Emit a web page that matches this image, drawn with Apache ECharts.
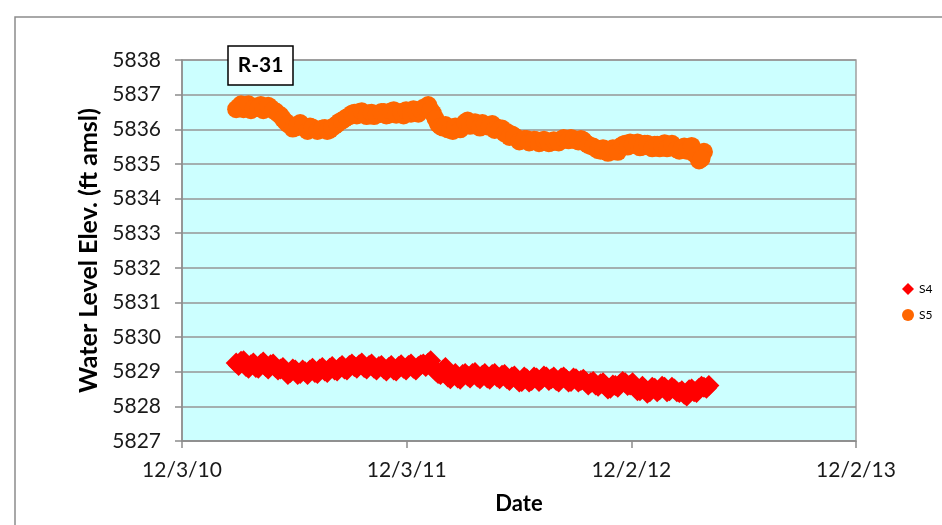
<!DOCTYPE html>
<html>
<head>
<meta charset="utf-8">
<script src="https://cdn.jsdelivr.net/npm/echarts@6/dist/echarts.min.js"></script>
<style>
  html, body { margin: 0; padding: 0; background: #fff; }
  #main { width: 942px; height: 525px; }
</style>
</head>
<body>
<div id="main"></div>
<script>
// x values are days after 12/3/10
var dateLabels = ['12/3/10', '12/3/11', '12/2/12', '12/2/13'];

// S4 readings (two passes over the band)
var s4Days = [88, 96, 104, 112, 120, 128, 136, 144, 152, 160, 168, 176, 184, 192, 200, 208, 216, 224, 232, 240,
    248, 256, 264, 272, 280, 288, 296, 304, 312, 320, 328, 336, 344, 352, 360, 368, 376, 384, 392, 400,
    408, 416, 424, 432, 440, 448, 456, 464, 472, 480, 488, 496, 504, 512, 520, 528, 536, 544, 552, 560,
    568, 576, 584, 592, 600, 608, 616, 624, 632, 640, 648, 656, 664, 672, 680, 688, 696, 704, 712, 720,
    728, 736, 744, 752, 760, 768, 776, 784, 792, 800, 808, 816, 824, 832, 840, 848, 856];
var s4Values = [5829.25, 5829.30, 5829.15, 5829.20, 5829.12, 5829.22, 5829.15, 5829.20, 5829.12, 5829.08,
    5829.02, 5828.98, 5829.05, 5828.95, 5829.00, 5829.05, 5828.98, 5829.08, 5829.02, 5829.10,
    5829.05, 5829.12, 5829.08, 5829.18, 5829.15, 5829.20, 5829.12, 5829.18, 5829.10, 5829.15,
    5829.08, 5829.12, 5829.05, 5829.15, 5829.10, 5829.18, 5829.10, 5829.15, 5829.22, 5829.25,
    5829.10, 5828.95, 5829.05, 5828.85, 5828.90, 5828.82, 5828.92, 5828.88, 5828.95, 5828.85,
    5828.90, 5828.82, 5828.92, 5828.85, 5828.90, 5828.80, 5828.85, 5828.78, 5828.72, 5828.80,
    5828.75, 5828.82, 5828.78, 5828.85, 5828.80, 5828.75, 5828.82, 5828.78, 5828.72, 5828.80,
    5828.75, 5828.70, 5828.68, 5828.62, 5828.65, 5828.58, 5828.52, 5828.60, 5828.65, 5828.68,
    5828.62, 5828.55, 5828.45, 5828.50, 5828.42, 5828.52, 5828.48, 5828.55, 5828.45, 5828.50,
    5828.40, 5828.35, 5828.48, 5828.42, 5828.52, 5828.55, 5828.60];
var s4DaysB = [92, 100, 108, 116, 124, 132, 140, 148, 156, 164, 172, 180, 188, 196, 204, 212, 220, 228, 236, 244,
    252, 260, 268, 276, 284, 292, 300, 308, 316, 324, 332, 340, 348, 356, 364, 372, 380, 388, 396, 404,
    412, 420, 428, 436, 444, 452, 460, 468, 476, 484, 492, 500, 508, 516, 524, 532, 540, 548, 556, 564,
    572, 580, 588, 596, 604, 612, 620, 628, 636, 644, 652, 660, 668, 676, 684, 692, 700, 708, 716, 724,
    732, 740, 748, 756, 764, 772, 780, 788, 796, 804, 812, 820, 828, 836, 844, 852];
var s4ValuesB = [5829.18, 5829.32, 5829.10, 5829.25, 5829.10, 5829.28, 5829.08, 5829.22, 5829.05, 5829.12,
    5828.92, 5829.08, 5828.92, 5829.05, 5828.92, 5829.10, 5828.95, 5829.12, 5828.98, 5829.15,
    5829.02, 5829.18, 5829.05, 5829.22, 5829.10, 5829.25, 5829.08, 5829.22, 5829.05, 5829.18,
    5829.02, 5829.18, 5829.02, 5829.20, 5829.05, 5829.22, 5829.05, 5829.20, 5829.15, 5829.32,
    5829.02, 5828.92, 5829.12, 5828.80, 5828.95, 5828.78, 5828.95, 5828.82, 5828.98, 5828.80,
    5828.95, 5828.78, 5828.95, 5828.80, 5828.92, 5828.75, 5828.88, 5828.70, 5828.85, 5828.70,
    5828.85, 5828.72, 5828.88, 5828.75, 5828.85, 5828.70, 5828.85, 5828.70, 5828.82, 5828.70,
    5828.78, 5828.62, 5828.72, 5828.58, 5828.68, 5828.50, 5828.62, 5828.55, 5828.72, 5828.60,
    5828.68, 5828.45, 5828.58, 5828.38, 5828.55, 5828.42, 5828.58, 5828.42, 5828.55, 5828.42,
    5828.45, 5828.30, 5828.50, 5828.40, 5828.58, 5828.52];

// S5 readings (two passes over the band)
var s5Days = [88, 96, 104, 112, 120, 128, 136, 144, 152, 160, 168, 176, 184, 192, 200, 208, 216, 224, 232, 240,
    248, 256, 264, 272, 280, 288, 296, 304, 312, 320, 328, 336, 344, 352, 360, 368, 376, 384, 392, 400,
    408, 416, 424, 432, 440, 448, 456, 464, 472, 480, 488, 496, 504, 512, 520, 528, 536, 544, 552, 560,
    568, 576, 584, 592, 600, 608, 616, 624, 632, 640, 648, 656, 664, 672, 680, 688, 696, 704, 712, 720,
    728, 736, 744, 752, 760, 768, 776, 784, 792, 800, 808, 816, 824, 832, 840, 848];
var s5Values = [5836.58, 5836.72, 5836.62, 5836.55, 5836.66, 5836.70, 5836.60, 5836.62, 5836.52, 5836.40,
    5836.22, 5836.12, 5836.05, 5836.18, 5836.02, 5836.08, 5836.00, 5835.98, 5836.04, 5835.98,
    5836.10, 5836.22, 5836.30, 5836.38, 5836.48, 5836.50, 5836.42, 5836.46, 5836.38, 5836.44,
    5836.50, 5836.42, 5836.55, 5836.48, 5836.40, 5836.52, 5836.58, 5836.45, 5836.62, 5836.70,
    5836.45, 5836.15, 5836.05, 5836.00, 5835.95, 5836.05, 5836.12, 5836.25, 5836.15, 5836.10,
    5836.18, 5836.08, 5836.15, 5836.05, 5836.02, 5835.92, 5835.85, 5835.75, 5835.68, 5835.72,
    5835.65, 5835.68, 5835.62, 5835.66, 5835.62, 5835.65, 5835.70, 5835.72, 5835.75, 5835.68,
    5835.72, 5835.60, 5835.52, 5835.45, 5835.38, 5835.42, 5835.35, 5835.40, 5835.50, 5835.58,
    5835.62, 5835.55, 5835.48, 5835.58, 5835.50, 5835.55, 5835.45, 5835.60, 5835.52, 5835.48,
    5835.38, 5835.50, 5835.45, 5835.30, 5835.10, 5835.35];
var s5DaysB = [92, 100, 108, 116, 124, 132, 140, 148, 156, 164, 172, 180, 188, 196, 204, 212, 220, 228, 236, 244,
    252, 260, 268, 276, 284, 292, 300, 308, 316, 324, 332, 340, 348, 356, 364, 372, 380, 388, 396, 404,
    412, 420, 428, 436, 444, 452, 460, 468, 476, 484, 492, 500, 508, 516, 524, 532, 540, 548, 556, 564,
    572, 580, 588, 596, 604, 612, 620, 628, 636, 644, 652, 660, 668, 676, 684, 692, 700, 708, 716, 724,
    732, 740, 748, 756, 764, 772, 780, 788, 796, 804, 812, 820, 828, 836, 844];
var s5ValuesB = [5836.65, 5836.58, 5836.72, 5836.60, 5836.62, 5836.55, 5836.68, 5836.55, 5836.45, 5836.30,
    5836.15, 5836.02, 5836.12, 5836.08, 5835.95, 5836.05, 5835.95, 5836.02, 5835.95, 5836.05,
    5836.15, 5836.25, 5836.35, 5836.45, 5836.40, 5836.52, 5836.38, 5836.48, 5836.42, 5836.50,
    5836.40, 5836.52, 5836.42, 5836.50, 5836.55, 5836.45, 5836.52, 5836.55, 5836.60, 5836.55,
    5836.30, 5836.08, 5836.12, 5835.98, 5836.08, 5836.00, 5836.20, 5836.10, 5836.20, 5836.05,
    5836.12, 5836.08, 5835.98, 5836.00, 5835.88, 5835.78, 5835.80, 5835.65, 5835.72, 5835.62,
    5835.70, 5835.60, 5835.70, 5835.60, 5835.68, 5835.62, 5835.75, 5835.68, 5835.72, 5835.65,
    5835.68, 5835.55, 5835.50, 5835.40, 5835.45, 5835.32, 5835.45, 5835.35, 5835.55, 5835.50,
    5835.55, 5835.62, 5835.50, 5835.58, 5835.45, 5835.55, 5835.52, 5835.45, 5835.58, 5835.42,
    5835.45, 5835.38, 5835.52, 5835.25, 5835.15];

function pairs(xs, ys) {
    var out = [];
    xs.forEach(function (x, i) {
        out.push([x, ys[i]]);
    });
    return out;
}

var font = 'Lato, "Open Sans", sans-serif';
var chart = echarts.init(document.getElementById('main'));

var option = {
    backgroundColor: '#ffffff',
    animation: false,
    grid: {
        left: 182,
        right: 86,
        top: 60,
        bottom: 84,
        show: true,
        backgroundColor: '#CCFFFF',
        borderColor: '#A0A0A0',
        borderWidth: 1.5
    },
    xAxis: {
        type: 'value',
        min: 0,
        max: 1095,
        interval: 365,
        name: 'Date',
        nameLocation: 'middle',
        nameGap: 52,
        nameTextStyle: { fontFamily: font, fontWeight: 'bold', fontSize: 22, color: '#000' },
        axisLine: { show: true, lineStyle: { color: '#8C8C8C', width: 1.5 } },
        axisTick: { show: true, inside: false, length: 7, lineStyle: { color: '#8C8C8C', width: 1.5 } },
        axisLabel: {
            margin: 19,
            fontFamily: font,
            fontSize: 21,
            color: '#1a1a1a',
            formatter: function (v) {
                return dateLabels[Math.round(v / 365)];
            }
        },
        splitLine: { show: false }
    },
    yAxis: {
        type: 'value',
        min: 5827,
        max: 5838,
        interval: 1,
        name: 'Water Level Elev. (ft amsl)',
        nameLocation: 'middle',
        nameGap: 67,
        nameTextStyle: { fontFamily: font, fontWeight: 'bold', fontSize: 25, color: '#000' },
        axisLine: { show: true, lineStyle: { color: '#8C8C8C', width: 1.5 } },
        axisTick: { show: true, inside: false, length: 7, lineStyle: { color: '#8C8C8C', width: 1.5 } },
        axisLabel: {
            margin: 21,
            fontFamily: font,
            fontSize: 21,
            color: '#1a1a1a',
            formatter: function (v) {
                return String(v);
            }
        },
        splitLine: { show: true, lineStyle: { color: '#969696', width: 1.5 } }
    },
    legend: {
        orient: 'vertical',
        left: 897,
        top: 278,
        itemWidth: 12,
        itemHeight: 12,
        itemGap: 14,
        textStyle: { fontFamily: font, fontSize: 12, color: '#000' },
        data: ['S4', 'S5']
    },
    series: [
        {
            name: 'S4',
            type: 'scatter',
            symbol: 'diamond',
            symbolSize: 21,
            itemStyle: { color: '#FF0000', opacity: 1 },
            data: pairs(s4Days, s4Values).concat(pairs(s4DaysB, s4ValuesB))
        },
        {
            name: 'S5',
            type: 'scatter',
            symbol: 'circle',
            symbolSize: 18,
            itemStyle: { color: '#FF6600', opacity: 1 },
            data: pairs(s5Days, s5Values).concat(pairs(s5DaysB, s5ValuesB))
        }
    ],
    graphic: [
        {
            type: 'rect',
            shape: { x: 15, y: 17, width: 960, height: 560 },
            style: { fill: 'none', stroke: '#8C8C8C', lineWidth: 1.5 },
            silent: true,
            z: -1
        },
        {
            type: 'rect',
            shape: { x: 228, y: 46, width: 65, height: 39 },
            style: { fill: '#ffffff', stroke: '#000000', lineWidth: 1.5 },
            z: 10
        },
        {
            type: 'text',
            x: 260.5,
            y: 65.5,
            style: {
                text: 'R-31',
                fontFamily: font,
                fontWeight: 'bold',
                fontSize: 21,
                fill: '#000',
                align: 'center',
                verticalAlign: 'middle'
            },
            z: 11
        }
    ]
};

chart.setOption(option);
</script>
</body>
</html>
